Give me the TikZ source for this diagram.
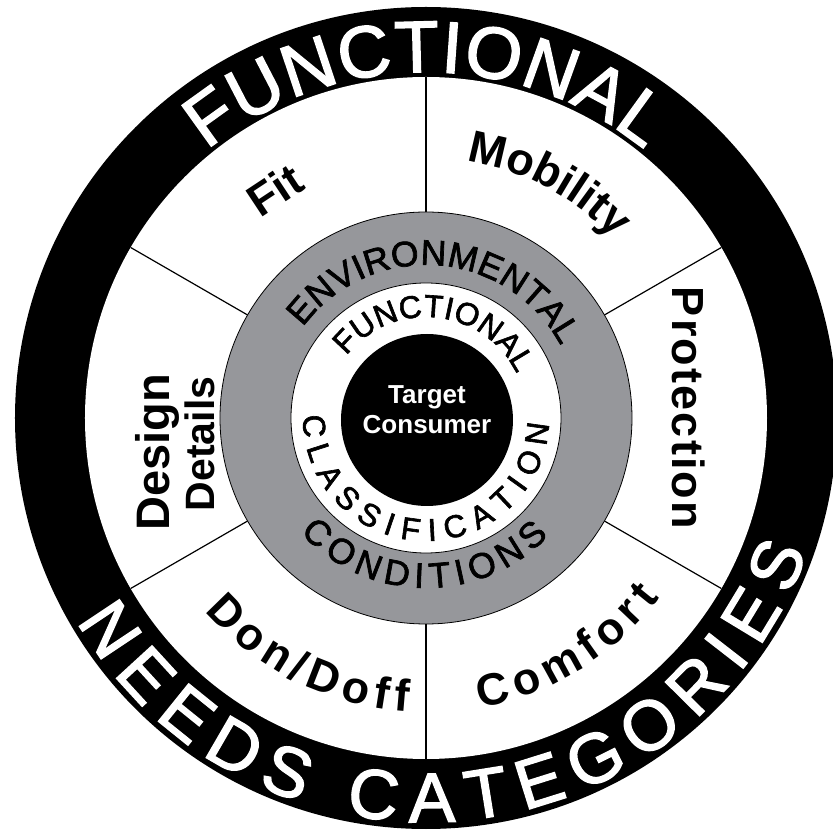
\documentclass[tikz,border=0pt]{standalone}
\usepackage{fontspec}
\setmainfont{Liberation Sans}
\newfontfamily\heavyface{Liberation Sans}[FakeBold=2]
\usetikzlibrary{decorations.text}
\definecolor{ringgray}{RGB}{150,151,155}

\newcommand\bandfont{\heavyface\fontsize{73}{73}\selectfont}
\newcommand\bandfontlow{\heavyface\fontsize{70}{70}\selectfont}
\newcommand\ringfont{\heavyface\fontsize{35.5}{35.5}\selectfont}
\newcommand\corefont{\heavyface\fontsize{31.5}{31.5}\selectfont}
\newcommand\sectorfont{\bfseries\fontsize{45}{45}\selectfont}

\begin{document}
\begin{tikzpicture}[x=1pt, y=1pt,
    arclabel/.style={decorate, decoration={text along path, text align={fit to path}, text={#1}}},
    whitetext/.style={decoration={text color=white}},
    divider/.style={draw=black, line width=1.2pt},
    ringedge/.style={draw=black, line width=0.8pt},
]
\useasboundingbox (-426,-414) rectangle (407,418);
\clip (-426,-414) rectangle (407,418);

% outer band
\fill[black] (0,0) circle[radius=411pt];
\fill[white] (0,0) circle[radius=341pt];

% six sectors
\foreach \a in {30,90,...,330}
    \draw[divider] (\a:206pt) -- (\a:341pt);

% inner rings
\filldraw[ringedge, fill=ringgray] (0,0) circle[radius=206pt];
\filldraw[ringedge, fill=white] (0,0) circle[radius=135pt];
\fill[black] (1,-2) circle[radius=86pt];
\node[font=\bfseries\fontsize{26}{30}\selectfont, text=white, align=center] (target) at (1,8) {Target\\Consumer};

% band text
\path[arclabel={|\bandfont|FUNCTIONAL}, whitetext]
    (129.3:346pt) arc[start angle=129.3, end angle=50.8, radius=346pt];
\path[arclabel={|\bandfontlow|NEEDS CATEGORIES}, whitetext]
    (210.2:404pt) arc[start angle=210.2, end angle=340.6, radius=404pt];

% ring text
\path[arclabel={|\ringfont|ENVIRONMENTAL}]
    (143.6:153pt) arc[start angle=143.6, end angle=28.2, radius=153pt];
\path[arclabel={|\ringfont|CONDITIONS}]
    (222.3:170pt) arc[start angle=222.3, end angle=316.2, radius=170pt];
\path[arclabel={|\corefont|FUNCTIONAL}]
    (142:101pt) arc[start angle=142, end angle=26, radius=101pt];
\path[arclabel={|\corefont|CLASSIFICATION}]
    (178.8:123pt) arc[start angle=178.8, end angle=357.3, radius=123pt];

% sector labels
\node[font=\sectorfont, rotate=33.5] (fit) at (-151,228) {Fit};
\path[arclabel={|\sectorfont|Mobility}]
    (81:260pt) arc[start angle=81, end angle=44, radius=260pt];
\coordinate (prot top) at (246,131);
\coordinate (prot bot) at (246,-111);
\path[arclabel={|\sectorfont|Protection}] (prot top) -- (prot bot);
\path[arclabel={|\sectorfont|Comfort}]
    (280.6:295pt) arc[start angle=280.6, end angle=322.4, radius=295pt];
\path[arclabel={|\sectorfont|Don/Doff}]
    (221.1:294pt) arc[start angle=221.1, end angle=266.6, radius=294pt];
\node[font=\bfseries\fontsize{47}{47}\selectfont, rotate=90] (design) at (-269,-34) {Design};
\node[font=\bfseries\fontsize{41}{41}\selectfont, rotate=90] (details) at (-226,-26) {Details};

\end{tikzpicture}
\end{document}
